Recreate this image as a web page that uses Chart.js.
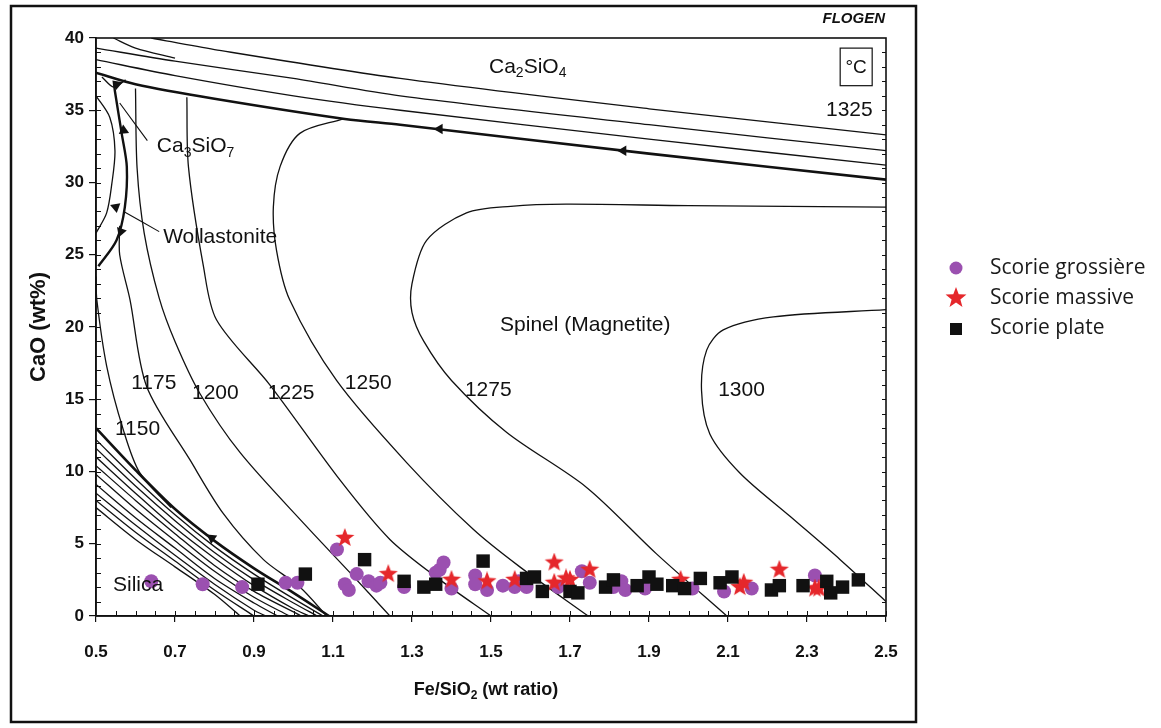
<!DOCTYPE html>
<html lang="fr">
<head>
<meta charset="UTF-8">
<title>CaO - Fe/SiO2 (FLOGEN) et scories</title>
<script src="https://cdn.jsdelivr.net/npm/chart.js@4.4.1/dist/chart.umd.min.js"></script>
<style>
    body { margin: 0; background: #fff; }
    #wrap { width: 1161px; height: 728px; }
</style>
</head>
<body>
<div id="wrap"><canvas id="diag" width="1161" height="728"></canvas></div>
<script>
// axis ticks
const xTickValues = [0.5, 0.7, 0.9, 1.1, 1.3, 1.5, 1.7, 1.9, 2.1, 2.3, 2.5];
const yTickValues = [0, 5, 10, 15, 20, 25, 30, 35, 40];

// slag samples [Fe/SiO2, CaO]
const seriesNames = ['Scorie grossière', 'Scorie massive', 'Scorie plate'];
const grossiere = [
    [0.64, 2.4], [0.77, 2.2], [0.87, 2.0], [0.98, 2.3], [1.01, 2.3], [1.11, 4.6], [1.13, 2.2],
    [1.14, 1.8], [1.16, 2.9], [1.19, 2.4], [1.21, 2.1], [1.22, 2.3], [1.28, 2.0], [1.36, 3.0],
    [1.37, 3.2], [1.38, 3.7], [1.40, 1.9], [1.46, 2.8], [1.46, 2.2], [1.49, 1.8], [1.53, 2.1],
    [1.56, 2.0], [1.57, 2.4], [1.59, 2.0], [1.67, 2.0], [1.73, 3.1], [1.75, 2.3], [1.81, 2.0],
    [1.83, 2.4], [1.84, 1.8], [1.89, 1.9], [2.01, 1.9], [2.09, 1.7], [2.16, 1.9], [2.32, 2.8]
];
const massive = [
    [1.13, 5.4], [1.24, 2.9], [1.40, 2.5], [1.49, 2.4], [1.56, 2.5], [1.66, 3.7], [1.66, 2.3],
    [1.69, 2.6], [1.70, 2.5], [1.75, 3.2], [1.98, 2.5], [2.13, 2.0], [2.14, 2.3], [2.23, 3.2],
    [2.32, 1.9], [2.33, 1.9]
];
const plate = [
    [0.91, 2.2], [1.03, 2.9], [1.18, 3.9], [1.28, 2.4], [1.33, 2.0], [1.36, 2.2], [1.48, 3.8],
    [1.59, 2.6], [1.61, 2.7], [1.63, 1.7], [1.70, 1.7], [1.72, 1.6], [1.79, 2.0], [1.81, 2.5],
    [1.87, 2.1], [1.90, 2.7], [1.92, 2.2], [1.96, 2.1], [1.99, 1.9], [2.03, 2.6], [2.08, 2.3],
    [2.11, 2.7], [2.21, 1.8], [2.23, 2.1], [2.29, 2.1], [2.35, 2.4], [2.36, 1.6], [2.39, 2.0],
    [2.43, 2.5]
];

// isotherms
const iso1150 = [[0.5, 23.5], [0.502, 21.9], [0.527, 17.3], [0.569, 12.9], [0.611, 9.9], [0.69, 7.5]];
const iso1175 = [[0.56, 27.0], [0.56, 25.0], [0.586, 21.9], [0.628, 15.9], [0.738, 10.8], [0.822, 7.1],
                 [0.924, 3.9], [1.016, 2.0], [1.084, 0]];
const iso1200 = [[0.6, 36.5], [0.604, 31.0], [0.622, 26.5], [0.66, 22.0], [0.70, 19.0], [0.763, 15.4],
                 [0.865, 11.3], [1.033, 6.2], [1.143, 3.0], [1.244, 0]];
const iso1225 = [[0.73, 35.9], [0.734, 31.1], [0.772, 24.2], [0.805, 20.5], [0.94, 16.0], [1.118, 9.4],
                 [1.244, 5.3], [1.371, 2.5], [1.5, 0]];
const iso1250 = [[1.126, 34.4], [1.016, 33.4], [0.966, 31.1], [0.949, 28.3], [0.957, 25.3], [0.99, 21.9],
                 [1.109, 16.3], [1.287, 10.6], [1.455, 6.0], [1.573, 3.4], [1.746, 0]];
const iso1275 = [[2.5, 28.3], [2.0, 28.4], [1.69, 28.5], [1.55, 28.35], [1.438, 27.9], [1.337, 26.0],
                 [1.30, 23.0], [1.30, 21.0], [1.33, 19.0], [1.40, 16.3], [1.54, 12.7], [1.742, 8.9],
                 [1.919, 4.3], [2.097, 0]];
const iso1300 = [[2.5, 21.2], [2.215, 20.7], [2.088, 19.8], [2.046, 18.4], [2.033, 15.6], [2.054, 12.6],
                 [2.13, 9.9], [2.257, 6.9], [2.384, 3.9], [2.5, 1.0]];
// Ca2SiO4 field lines (last one is the boundary)
const top0 = [[0.544, 40], [0.6, 39.3], [0.7, 38.6]];
const top1 = [[0.64, 40], [0.8, 39.2], [1.27, 37.2], [1.9, 35.1], [2.5, 33.3]];
const top2 = [[0.5, 39.3], [0.7, 38.4], [1.0, 37.2], [1.27, 36.0], [1.9, 34.0], [2.5, 32.2]];
const top3 = [[0.5, 38.5], [0.7, 37.4], [1.0, 36.0], [1.27, 35.0], [1.9, 33.0], [2.5, 31.2]];
const topBoundary = [[0.5, 37.6], [0.6, 36.8], [0.8, 35.8], [1.13, 34.4], [1.27, 34.0], [1.9, 32.0], [2.5, 30.2]];
// wollastonite field
const wollThick = [[0.545, 37.0], [0.548, 36.3], [0.565, 33.4], [0.578, 31.1], [0.573, 28.3], [0.552, 26.0], [0.506, 24.2]];
const wollThin = [[0.5, 36.0], [0.535, 34.5], [0.548, 32.2], [0.54, 29.9], [0.527, 27.9], [0.5, 26.5]];
const ca3Lines = [[0.515, 37.3], [0.545, 36.6], [0.575, 37.1]];
// silica liquidus (hatched band, top line is the boundary)
const silicaBand = [
    [[0.5, 13.0], [0.6, 10.1], [0.7, 7.4], [0.8, 5.2], [0.9, 3.3], [1.0, 1.6], [1.09, 0]],
    [[0.5, 12.2], [0.6, 9.5], [0.7, 7.0], [0.8, 4.8], [0.9, 2.9], [1.0, 1.2], [1.075, 0]],
    [[0.5, 11.6], [0.6, 9.0], [0.7, 6.6], [0.8, 4.4], [0.9, 2.5], [1.0, 0.9], [1.06, 0]],
    [[0.5, 11.0], [0.6, 8.5], [0.7, 6.1], [0.8, 4.0], [0.9, 2.1], [1.0, 0.5], [1.04, 0]],
    [[0.5, 10.4], [0.6, 8.0], [0.7, 5.7], [0.8, 3.5], [0.9, 1.7], [1.02, 0]],
    [[0.5, 9.8], [0.6, 7.4], [0.7, 5.2], [0.8, 3.1], [0.9, 1.3], [0.99, 0]],
    [[0.5, 9.1], [0.6, 6.8], [0.7, 4.7], [0.8, 2.6], [0.9, 0.9], [0.96, 0]],
    [[0.5, 8.5], [0.6, 6.3], [0.7, 4.2], [0.8, 2.2], [0.9, 0.4], [0.93, 0]],
    [[0.5, 8.0], [0.6, 5.8], [0.7, 3.8], [0.8, 1.8], [0.9, 0]],
    [[0.5, 7.5], [0.6, 5.3], [0.7, 3.4], [0.8, 1.5], [0.865, 0]]
];
const leaders = [[[0.56, 35.5], [0.63, 32.9]], [[0.57, 28.0], [0.66, 26.6]]];
const arrowPts = [[1.37, 33.7], [1.835, 32.2], [0.793, 5.4], [0.57, 33.6], [0.55, 28.3], [0.563, 26.6], [0.553, 36.8]];
const arrowAngles = [-90, -90, -54, -5, 170, 200, 190];

const LAB = "'Liberation Sans', Arial, sans-serif";
const NARROW = "'Liberation Sans Narrow', 'Liberation Sans', Arial, sans-serif";
const PURPLE = '#9b50b0';
const RED = '#e5272b';

function makeStar(size, color) {
    const c = document.createElement('canvas');
    c.width = size; c.height = size;
    const g = c.getContext('2d');
    const R = size / 2, r = R * 0.42;
    g.beginPath();
    for (let i = 0; i < 10; i++) {
        const a = -Math.PI / 2 + i * Math.PI / 5;
        const rad = i % 2 ? r : R;
        g.lineTo(R + rad * Math.cos(a), R + rad * Math.sin(a));
    }
    g.closePath();
    g.fillStyle = color;
    g.fill();
    return c;
}
const starImg = makeStar(20, RED);
const starLegend = makeStar(22, RED);

const pts = arr => arr.map(p => ({ x: p[0], y: p[1] }));
function curve(arr, width) {
    return {
        data: pts(arr), showLine: true, pointRadius: 0, borderColor: '#111',
        borderWidth: width || 1.3, tension: 0.3, fill: false, order: 10
    };
}

const datasets = [
    { label: seriesNames[2], data: pts(plate), pointStyle: 'rect', pointRadius: 9.5, backgroundColor: '#111', borderWidth: 0, order: 0 },
    { label: seriesNames[1], data: pts(massive), pointStyle: starImg, order: 1 },
    { label: seriesNames[0], data: pts(grossiere), pointStyle: 'circle', pointRadius: 7, backgroundColor: PURPLE, borderWidth: 0, order: 2 },
    { data: pts(arrowPts), pointStyle: 'triangle', pointRadius: 6, rotation: arrowAngles, backgroundColor: '#111', borderWidth: 0, order: 3 },
    curve(iso1150), curve(iso1175), curve(iso1200), curve(iso1225), curve(iso1250),
    curve(iso1275), curve(iso1300),
    curve(top0), curve(top1), curve(top2), curve(top3), curve(topBoundary, 2.6),
    curve(wollThick, 2.4), curve(wollThin), curve(ca3Lines)
];
silicaBand.forEach((line, i) => datasets.push(curve(line, i === 0 ? 2.6 : 1.3)));
leaders.forEach(l => datasets.push(curve(l, 1.1)));

// text inside the diagram: [parts, x, y]  (parts: [text, subscript?])
const diagramLabels = [
    [[['Ca'], ['2', 1], ['SiO'], ['4', 1]], 1.495, 38.0],
    [[['Ca'], ['3', 1], ['SiO'], ['7', 1]], 0.654, 32.5],
    [[['Wollastonite']], 0.670, 26.2],
    [[['Spinel (Magnetite)']], 1.523, 20.1],
    [[['1325']], 2.348, 35.0],
    [[['1300']], 2.075, 15.6],
    [[['1275']], 1.434, 15.6],
    [[['1250']], 1.130, 16.1],
    [[['1225']], 0.935, 15.4],
    [[['1200']], 0.743, 15.4],
    [[['1175']], 0.589, 16.1],
    [[['1150']], 0.548, 12.9],
    [[['Silica']], 0.543, 2.15]
];

function drawRich(ctx, parts, x, y, size, weight, align) {
    const fontFor = sub => `${weight} ${sub ? Math.round(size * 0.68) : size}px ${LAB}`;
    let w = 0;
    parts.forEach(p => { ctx.font = fontFor(p[1]); w += ctx.measureText(p[0]).width; });
    let cx = align === 'center' ? x - w / 2 : x;
    ctx.textAlign = 'left';
    ctx.textBaseline = 'middle';
    parts.forEach(p => {
        ctx.font = fontFor(p[1]);
        ctx.fillText(p[0], cx, y + (p[1] ? size * 0.3 : 0));
        cx += ctx.measureText(p[0]).width;
    });
}

const decor = {
    id: 'decor',
    afterDraw(chart) {
        const ctx = chart.ctx;
        const a = chart.chartArea;
        const xs = chart.scales.x, ys = chart.scales.y;
        ctx.save();
        ctx.strokeStyle = '#111';
        ctx.fillStyle = '#111';

        // plot frame
        ctx.lineWidth = 1.6;
        ctx.strokeRect(a.left, a.top, a.right - a.left, a.bottom - a.top);

        // minor ticks inside the frame
        ctx.lineWidth = 1;
        ctx.beginPath();
        for (let v = 0.55; v < 2.5; v += 0.05) {
            const px = Math.round(xs.getPixelForValue(v)) + 0.5;
            ctx.moveTo(px, a.bottom); ctx.lineTo(px, a.bottom - 5);
        }
        for (let v = 1; v < 40; v++) {
            const py = Math.round(ys.getPixelForValue(v)) + 0.5;
            ctx.moveTo(a.left, py); ctx.lineTo(a.left + 5, py);
            ctx.moveTo(a.right, py); ctx.lineTo(a.right - 4, py);
        }
        ctx.stroke();

        // labels in data coordinates
        diagramLabels.forEach(l => {
            drawRich(ctx, l[0], xs.getPixelForValue(l[1]), ys.getPixelForValue(l[2]), 21, 'normal', 'left');
        });

        // degree box
        const bx0 = xs.getPixelForValue(2.384), bx1 = xs.getPixelForValue(2.465);
        const by0 = ys.getPixelForValue(39.3), by1 = ys.getPixelForValue(36.7);
        ctx.lineWidth = 1.2;
        ctx.strokeRect(bx0, by0, bx1 - bx0, by1 - by0);
        ctx.font = `19px ${LAB}`;
        ctx.textAlign = 'center';
        ctx.textBaseline = 'middle';
        ctx.fillText('\u00B0C', (bx0 + bx1) / 2, (by0 + by1) / 2 + 1);

        // source tag
        ctx.font = `italic bold 15px ${LAB}`;
        ctx.textAlign = 'right';
        ctx.fillText('FLOGEN', a.right - 1, 19);

        // x axis title
        drawRich(ctx, [['Fe/SiO'], ['2', 1], [' (wt ratio)']], (a.left + a.right) / 2 - 5, 690, 18, 'bold', 'center');

        // legend
        const lx = 956;
        ctx.fillStyle = PURPLE;
        ctx.beginPath(); ctx.arc(lx, 268, 6.5, 0, Math.PI * 2); ctx.fill();
        ctx.drawImage(starLegend, lx - 11, 298 - 11);
        ctx.fillStyle = '#111';
        ctx.fillRect(lx - 6, 323, 12, 12);
        ctx.fillStyle = '#1a1a1a';
        ctx.font = "21px 'Open Sans', 'Noto Sans', sans-serif";
        ctx.textAlign = 'left';
        ctx.textBaseline = 'middle';
        seriesNames.forEach((n, i) => ctx.fillText(n, 990, 268 + i * 30));

        // outer figure frame
        ctx.lineWidth = 2.5;
        ctx.strokeStyle = '#111';
        ctx.strokeRect(11, 6, 905, 716);
        ctx.restore();
    }
};

new Chart(document.getElementById('diag'), {
    type: 'scatter',
    data: { datasets },
    options: {
        responsive: false,
        animation: false,
        devicePixelRatio: 1,
        layout: { padding: { left: 10, right: 275, top: 38, bottom: 0 } },
        plugins: { legend: { display: false }, tooltip: { enabled: false } },
        scales: {
            x: {
                type: 'linear', min: 0.5, max: 2.5,
                afterBuildTicks: s => { s.ticks = xTickValues.map(v => ({ value: v })); },
                afterFit: s => { s.height = 112; },
                ticks: {
                    callback: v => v.toFixed(1), padding: 20, color: '#111',
                    font: { family: NARROW, size: 17, weight: 'bold' }
                },
                grid: { drawOnChartArea: false, tickLength: 6, color: '#111', lineWidth: 1.2 },
                border: { color: '#111', width: 1.6 }
            },
            y: {
                type: 'linear', min: 0, max: 40,
                afterBuildTicks: s => { s.ticks = yTickValues.map(v => ({ value: v })); },
                afterFit: s => { s.width = 86; },
                ticks: {
                    padding: 5, color: '#111',
                    font: { family: NARROW, size: 17, weight: 'bold' }
                },
                grid: { drawOnChartArea: false, tickLength: 7, color: '#111', lineWidth: 1.2 },
                border: { color: '#111', width: 1.6 },
                title: {
                    display: true, text: 'CaO (wt%)', color: '#111',
                    font: { family: LAB, size: 22, weight: 'bold' },
                    padding: { top: 16, bottom: 0 }
                }
            }
        }
    },
    plugins: [decor]
});
</script>
</body>
</html>
